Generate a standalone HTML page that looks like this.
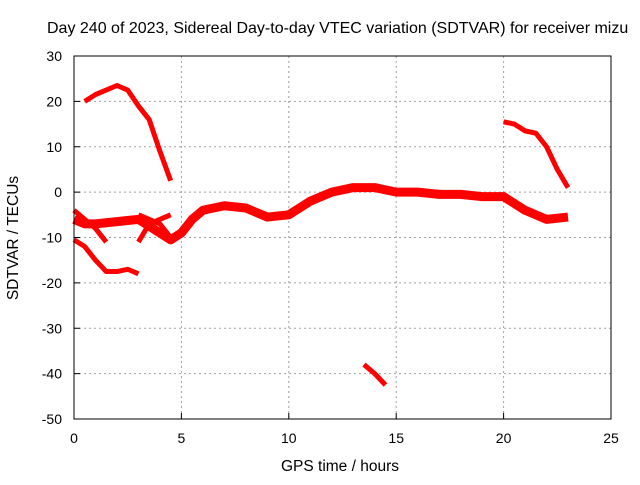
<!DOCTYPE html>
<html><head><meta charset="utf-8"><style>
body{margin:0;background:#fff;font-family:"Liberation Sans",sans-serif}
svg text{font-family:"Liberation Sans",sans-serif;font-size:14px;fill:#000}
</style></head><body>
<svg width="640" height="480">
<rect width="640" height="480" fill="#fff"/>
<text x="47" y="33" style="font-size:16px">Day 240 of 2023, Sidereal Day-to-day VTEC variation (SDTVAR) for receiver mizu</text>
<text x="340" y="471" text-anchor="middle" style="font-size:15.5px">GPS time / hours</text>
<text transform="translate(18,238) rotate(-90)" text-anchor="middle" style="font-size:15.5px">SDTVAR / TECUs</text>
<g id="grid"></g><g id="series"></g>
<rect x="74" y="56" width="537" height="363" fill="none" stroke="#000" stroke-width="1"/>
<g id="ticks"></g>
</svg>
<script>
const xTicks=[0,5,10,15,20,25];
const yTicks=[30,20,10,0,-10,-20,-30,-40,-50];
const seriesTopArc=[[0.5,20],[1,21.5],[1.5,22.5],[2,23.5],[2.5,22.5],[3,19],[3.5,16],[4,9],[4.5,2.5]];
const seriesLowLeft=[[0,-10.5],[0.5,-12],[1,-15],[1.5,-17.5],[2,-17.5],[2.5,-17],[3,-18]];
const seriesMain=[[0,-6],[0.5,-7],[1,-7],[2,-6.5],[3,-6],[3.5,-7.5],[4.5,-10.5],[5,-9],[5.5,-6],[6,-4],[7,-3],[8,-3.5],[9,-5.5],[10,-5],[11,-2],[12,0],[13,1],[14,1],[15,0],[16,0],[17,-0.5],[18,-0.5],[19,-1],[20,-1],[21,-4],[22,-6],[23,-5.5]];
const seriesBranch1=[[0,-4],[1,-8],[1.5,-11]];
const seriesBranch2=[[3,-11],[3.5,-7],[4.5,-5]];
const seriesBranch3=[[3,-5],[4,-7],[4.5,-10]];
const seriesDip=[[13.5,-38],[14,-40],[14.5,-42.5]];
const seriesRightArc=[[20,15.5],[20.5,15],[21,13.5],[21.5,13],[22,10],[22.5,5],[23,1]];
const X=v=>74+v*537/25, Y=v=>56+(30-v)*363/80;
const NS="http://www.w3.org/2000/svg";
const grid=document.getElementById('grid'),ticks=document.getElementById('ticks'),ser=document.getElementById('series');
function mk(tag,attrs,parent){const e=document.createElementNS(NS,tag);for(const k in attrs)e.setAttribute(k,attrs[k]);parent.appendChild(e);return e;}
xTicks.forEach(t=>{const x=X(t);
 if(t>0&&t<25){const g=mk('line',{x1:x,x2:x,y1:56,y2:419,stroke:'#a0a0a0','stroke-dasharray':'2,3'},grid);
 
 }
 mk('line',{x1:x,x2:x,y1:419,y2:413,stroke:'#000'},ticks);
 const l=mk('text',{x:x,y:443,'text-anchor':'middle'},ticks);l.textContent=t;
 
 });
yTicks.forEach(t=>{const y=Y(t);
 if(t<30&&t>-50){const g=mk('line',{x1:74,x2:611,y1:y,y2:y,stroke:'#a0a0a0','stroke-dasharray':'2,3'},grid);
 
 }
 mk('line',{x1:74,x2:80,y1:y,y2:y,stroke:'#000'},ticks);
 const l=mk('text',{x:62,y:y+5,'text-anchor':'end'},ticks);l.textContent=t;
 
 });
const all=[[seriesTopArc,'top-arc',5],[seriesLowLeft,'low-left-arc',5],[seriesMain,'main-band',9],[seriesBranch1,'branch-1',5],[seriesBranch2,'branch-2',5],[seriesBranch3,'branch-3',5],[seriesDip,'dip-segment',5],[seriesRightArc,'right-arc',5]];
all.forEach(([d,name,w])=>{const p=mk('polyline',{points:d.map(q=>X(q[0])+','+Y(q[1])).join(' '),fill:'none',stroke:'#ff0000','stroke-width':w,'stroke-linejoin':'round'},ser);
 
 });
</script>
</body></html>
